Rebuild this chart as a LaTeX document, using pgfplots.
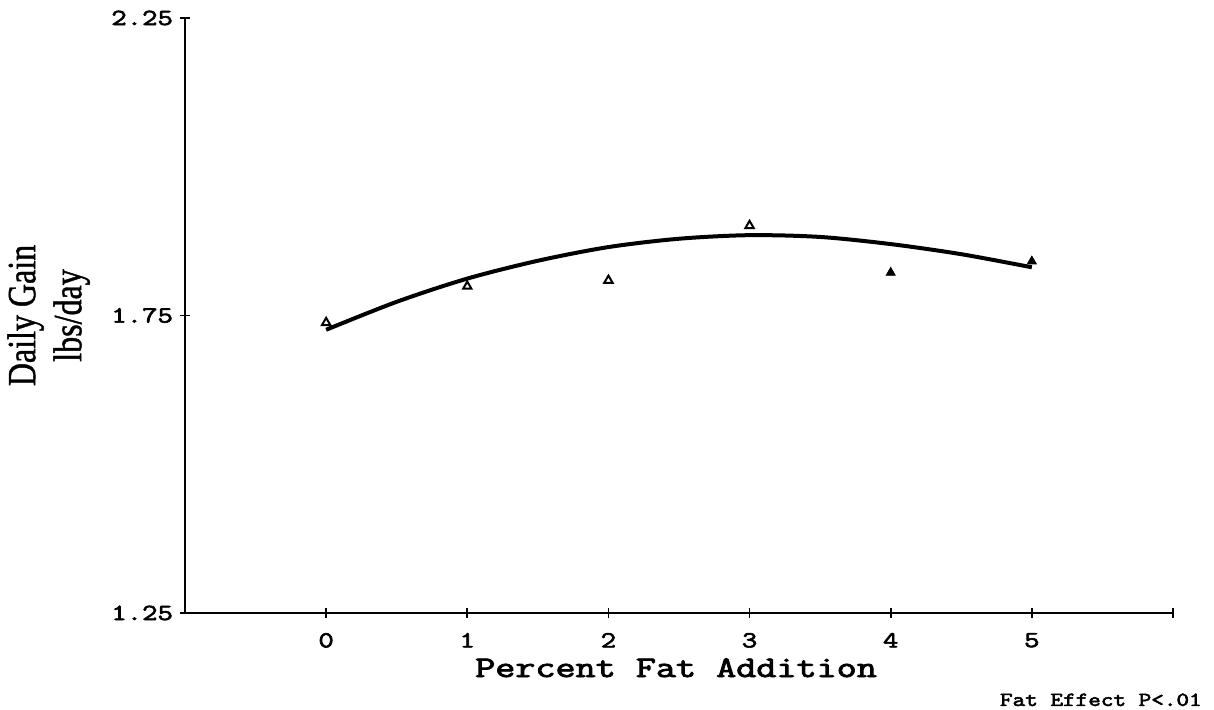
\documentclass[border=0pt]{standalone}
\usepackage{pgfplots}
\pgfplotsset{compat=1.18}
\usepackage{fontspec}
\setmainfont{Liberation Serif}
\newfontfamily\mono[FakeBold=2.5]{Latin Modern Mono}
\newfontfamily\ylab[FakeBold=1.2]{Liberation Serif}

\begin{document}
\begin{tikzpicture}
\begin{axis}[
  at={(0,0)}, anchor=south west,
  scale only axis, width=494pt, height=297.5pt,
  xmin=-1, xmax=6, ymin=1.25, ymax=2.25,
  axis x line*=bottom, axis y line*=left,
  axis line style={-, line width=0.8pt},
  xtick={0,1,2,3,4,5}, ytick={1.25,1.75,2.25},
  extra x ticks={6}, extra x tick labels={},
  tick align=center, major tick length=5pt,
  tick style={line width=0.8pt, black},
  /pgf/number format/assume math mode=true,
  /pgf/number format/fixed, /pgf/number format/fixed zerofill,
  /pgf/number format/precision=2,
  xticklabel={\scalebox{1.3}[1]{\pgfmathprintnumber[precision=0,fixed zerofill=false]{\tick}}},
  yticklabel={\scalebox{1.3}[1]{\pgfmathprintnumber{\tick}}},
  tick label style={font=\mono\fontsize{11.5}{13}\selectfont},
  xticklabel style={yshift=-4pt},
  xlabel={\scalebox{1.3}[1]{Percent Fat Addition}},
  xlabel style={font=\mono\fontsize{15}{17}\selectfont,
    at={(axis description cs:0.497,-0.092)}, anchor=center},
  ylabel={\scalebox{0.8}[1]{Daily Gain}\\\scalebox{0.8}[1]{lbs/day}},
  ylabel style={font=\ylab\fontsize{20}{23}\selectfont, align=center,
    at={(axis description cs:-0.138,0.5)}, anchor=center},
  clip=false,
]
% fitted curve
\addplot[black, line width=2pt, smooth, mark=none] coordinates {
  (0,1.726) (0.5,1.773) (1,1.812) (1.5,1.842) (2,1.865) (2.5,1.879)
  (3,1.885) (3.5,1.882) (4,1.870) (4.5,1.853) (5,1.831)
};
% observed means
\addplot[only marks, mark=triangle, mark size=2.4pt, line width=1pt, black] coordinates {
  (0,1.738) (1,1.799) (2,1.809) (3,1.901)
};
\addplot[only marks, mark=triangle*, mark size=2.6pt, black] coordinates {
  (4,1.822) (5,1.841)
};
\node[font=\mono\fontsize{10}{12}\selectfont, anchor=center]
  at (axis description cs:0.927,-0.146) {\scalebox{1.2}[1]{Fat Effect P<.01}};
\end{axis}
\pgfresetboundingbox
\path (-92.5pt,-48.5pt) rectangle (514.5pt,306.5pt);
\end{tikzpicture}
\end{document}
